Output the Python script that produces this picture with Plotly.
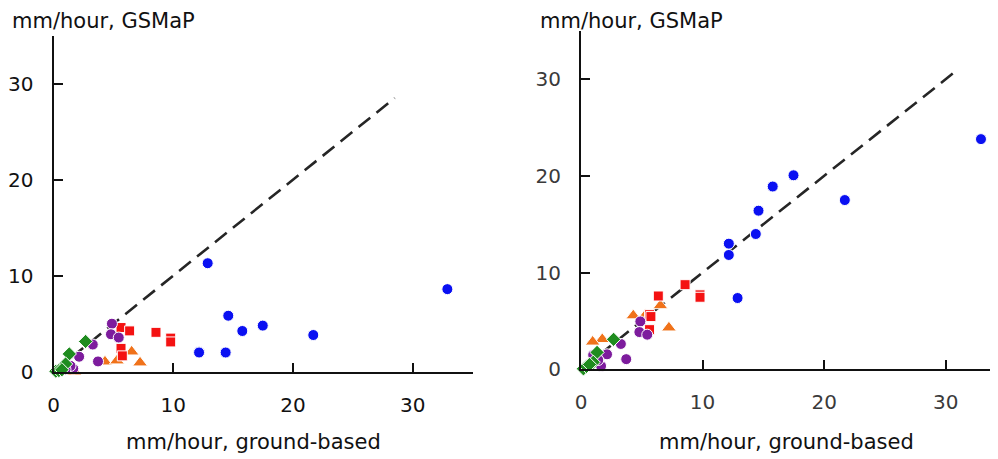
import plotly.graph_objects as go

# ---------------- data ----------------
x_ticks = [0, 10, 20, 30]
x_tick_labels = ["0", "10", "20", "30"]

# ground-based rain rate (shared by both panels), GSMaP left (before) / right (after)
blue_ground = [12.88, 32.9, 14.6, 17.48, 15.77, 21.7, 12.16, 12.16, 14.38]
blue_left = [11.3, 8.6, 5.83, 4.8, 4.24, 3.82, 2.08, 2.0, 2.0]
blue_right = [7.37, 23.8, 16.4, 20.06, 18.9, 17.5, 12.99, 11.82, 13.99]

orange_ground = [4.3, 5.3, 6.53, 7.23, 1.75, 0.96]
orange_left = [1.04, 1.15, 2.08, 0.94, 0.0, 0.2]
orange_right = [5.55, 5.6, 6.6, 4.3, 3.1, 2.84]

red_ground = [5.64, 6.36, 8.56, 9.79, 9.79, 5.64, 5.75]
red_left = [4.6, 4.25, 4.1, 3.5, 3.1, 2.43, 1.65]
red_right = [5.65, 7.58, 8.75, 7.7, 7.45, 4.1, 5.45]

purple_ground = [4.88, 4.8, 5.45, 3.28, 2.14, 3.72, 1.65, 1.42, 1.0]
purple_left = [5.0, 3.9, 3.56, 2.83, 1.56, 1.07, 0.32, 0.6, 0.25]
purple_right = [4.95, 3.85, 3.58, 2.62, 1.55, 1.05, 0.34, 0.96, 1.48]

green_ground = [2.68, 1.32, 1.01, 0.2, 0.45, 0.7]
green_left = [3.15, 1.85, 0.8, 0.05, 0.12, 0.2]
green_right = [3.1, 1.75, 0.73, 0.05, 0.3, 0.5]

diag_left = [0, 28.5]
diag_right = [0, 31]

y_title = "mm/hour, GSMaP"
x_title = "mm/hour, ground-based"

# ---------------- figure ----------------
# page body has an 8px default margin; size the figure to fill the window
OFF = 8
W, H = 998 - OFF, 459 - OFF
fig = go.Figure()

series = [
    ("blue", blue_ground, blue_left, blue_right, "circle", "#0a10f2", 11),
    ("orange", orange_ground, orange_left, orange_right, "triangle-up", "#f0721a", 13),
    ("red", red_ground, red_left, red_right, "square", "#f41212", 10),
    ("purple", purple_ground, purple_left, purple_right, "circle", "#7d1c9d", 11),
    ("green", green_ground, green_left, green_right, "diamond", "#1f8c1f", 11),
]

for panel, (xa, ya, diag) in enumerate([("x", "y", diag_left), ("x2", "y2", diag_right)]):
    fig.add_trace(go.Scatter(
        x=diag, y=diag, mode="lines", xaxis=xa, yaxis=ya,
        line=dict(color="#262626", width=2.6, dash="15px,8px"),
        showlegend=False, hoverinfo="skip"))
    for name, gx, yl, yr, sym, col, sz in series:
        fig.add_trace(go.Scatter(
            x=gx, y=(yl if panel == 0 else yr), mode="markers",
            xaxis=xa, yaxis=ya, name=name, cliponaxis=False,
            marker=dict(symbol=sym, color=col, size=sz,
                        line=dict(color="white", width=1)),
            showlegend=False))

def px_x(p):
    return (p - OFF) / W

def px_y(p):
    return 1 - (p - OFF) / H

tick_font_l = dict(family="DejaVu Sans", size=20, color="#111111")
tick_font_r = dict(family="DejaVu Sans", size=20, color="#3a3a3a")

axis_common = dict(showgrid=False, zeroline=False, showline=True,
                   linecolor="#111111", linewidth=2.2, ticks="inside",
                   ticklen=9, tickwidth=2, tickcolor="#111111",
                   tickvals=x_ticks, ticktext=x_tick_labels,
                   ticklabelstandoff=14, automargin=False)

fig.update_layout(
    width=W, height=H,
    margin=dict(l=0, r=0, t=0, b=0, pad=0),
    paper_bgcolor="white", plot_bgcolor="white",
    xaxis=dict(domain=[px_x(53.5), px_x(472.5)], range=[0, 35],
               anchor="y", tickfont=tick_font_l, **axis_common),
    yaxis=dict(domain=[px_y(371.7), px_y(35.7)], range=[0, 35],
               anchor="x", tickfont=tick_font_l, **axis_common),
    xaxis2=dict(domain=[px_x(581), 1.0], range=[0, 34.3],
                anchor="y2", tickfont=tick_font_r, **axis_common),
    yaxis2=dict(domain=[px_y(369.3), px_y(30.8)], range=[0, 35],
                anchor="x2", tickfont=tick_font_r, **axis_common),
)

title_font = dict(family="DejaVu Sans", size=21, color="#111111")
annos = [
    (10, 20.7, "left", y_title),
    (538, 20.7, "left", y_title),
    (253, 441.7, "center", x_title),
    (786, 441.7, "center", x_title),
]
for x, y, anc, txt in annos:
    fig.add_annotation(x=px_x(x), y=px_y(y), xref="paper", yref="paper",
                       text=txt, showarrow=False, xanchor=anc, yanchor="middle",
                       font=title_font)

fig.write_html("out.html")
